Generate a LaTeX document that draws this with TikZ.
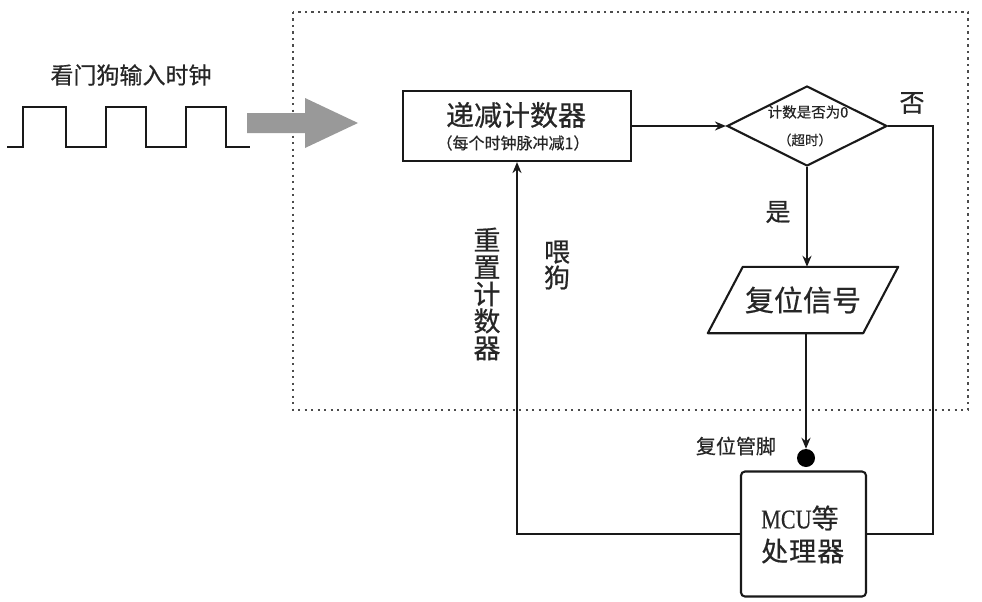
\documentclass[tikz,border=0pt]{standalone}
\usepackage{fontspec}
\setmainfont{Noto Sans CJK SC}[FakeBold=0.6]
\newfontfamily\mcufont[FakeStretch=0.82,FakeBold=0.4]{Liberation Serif}
\usetikzlibrary{shapes.geometric,arrows.meta}
\newcommand\fsz[1]{\fontsize{#1}{#1}\selectfont}
\begin{document}
\begin{tikzpicture}[x=1pt,y=-1pt,
  line/.style={line width=2.1pt, draw=black!90},
  arr/.style={line, -{Stealth[length=11pt,width=9pt]}},
  txt/.style={text=black!85, inner sep=0}]
\useasboundingbox (0,0) rectangle (982,602);
% dotted frame
\draw[black!70, line width=2.5pt, dash pattern=on 2.2pt off 4.3pt] (293,12) rectangle (968,410);
% clock input
\node[txt, font=\fsz{23}] (clklabel) at (131,75) {看门狗输入时钟};
\draw[line, line width=2.6pt] (7,147) -- (23,147) -- (23,107) -- (66,107) -- (66,147) -- (106,147) -- (106,107) -- (146,107) -- (146,147) -- (186,147) -- (186,107) -- (226,107) -- (226,147) -- (250,147);
\fill[gray!80] (247,113) -- (305,113) -- (305,98) -- (358,123) -- (305,148) -- (305,133) -- (247,133) -- cycle;
% counter
\node[line, draw, minimum width=228, minimum height=70, inner sep=0] (counter) at (517,126) {};
\node[txt, font=\fsz{28}] (countert) at (516,115) {递减计数器};
\node[txt, font=\fsz{16}] (counters) at (513,143) {（每个时钟脉冲减1）};
% decision
\node[line, draw, diamond, minimum width=160, minimum height=80, inner sep=0] (diamond) at (807,126) {};
\node[txt, font=\fsz{14.5}] (dt1) at (808,112) {计数是否为0};
\node[txt, font=\fsz{13.5}] (dt2) at (805,140) {（超时）};
\node[txt, font=\fsz{25}] (no) at (912,103) {否};
\node[txt, font=\fsz{25}] (yes) at (778,212) {是};
% reset signal
\node[txt, font=\fsz{29}, minimum width=155, minimum height=66] (reset) at (803,300) {复位信号};
\draw[line, line join=round] ([xshift=-17.5pt]reset.south west) -- ([xshift=17.5pt]reset.north west) -- ([xshift=17.5pt]reset.north east) -- ([xshift=-17.5pt]reset.south east) -- cycle;
% reset pin and MCU
\node[circle, fill=black, inner sep=0, minimum size=18] (pin) at (806,458) {};
\node[txt, font=\fsz{20}] (pinlabel) at (736,446) {复位管脚};
\node[line, draw, rounded corners=4pt, minimum width=125, minimum height=125] (mcu) at (803.5,534) {};
\node[txt, font=\fsz{27}, anchor=west] (mcut1) at (761,518) {{\mcufont MCU}等};
\node[txt, font=\fsz{27}, anchor=west] (mcut2) at (761,551) {处\hspace{1pt}理\hspace{1pt}器};
% vertical labels
\node[txt, font=\fsz{27}, align=center] (resetcnt) at (487,294) {\fsz{27}重\\置\\计\\数\\器};
\node[txt, font=\fsz{26}, align=center] (feed) at (557,265) {\fsz{26}喂\\狗};
% connectors
\draw[arr] (counter.east) -- (diamond.west);
\draw[arr] (diamond.south) -- (diamond.south |- reset.north);
\draw[arr] (reset.south -| pin) -- (pin.north);
\draw[arr] (mcu.west) -| (counter.south);
\draw[line] (diamond.east) -- ++(45,0) |- (mcu.east);
\end{tikzpicture}
\end{document}
